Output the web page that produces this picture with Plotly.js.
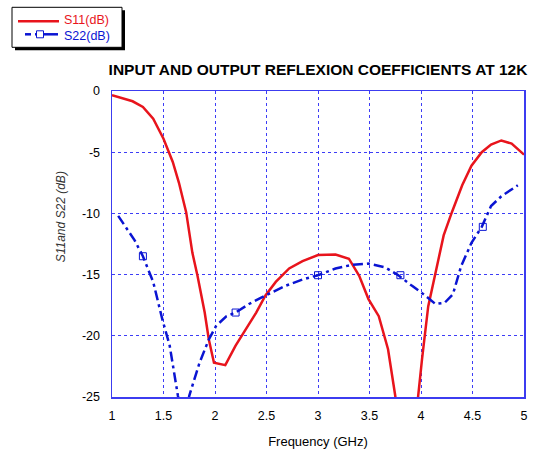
<!DOCTYPE html>
<html>
<head>
<meta charset="utf-8">
<script src="https://cdn.plot.ly/plotly-3.0.1.min.js"></script>
<style>html,body{margin:0;padding:0;background:#fff;}#chart{width:535px;height:449px;}</style>
</head>
<body>
<div id="chart"></div>
<script>
// S11 (dB) versus frequency (GHz)
var s11Freq = [1.00, 1.20, 1.30, 1.40, 1.50, 1.59, 1.65, 1.72, 1.78, 1.83, 1.90, 1.94, 1.99, 2.10, 2.20, 2.30, 2.40, 2.49, 2.59, 2.72, 2.85, 3.00, 3.17, 3.30, 3.40, 3.49, 3.59, 3.68, 3.75, 3.86, 3.97, 4.01, 4.07, 4.14, 4.22, 4.30, 4.40, 4.49, 4.59, 4.68, 4.78, 4.88, 5.00];
var s11dB   = [-0.35, -0.84, -1.3, -2.27, -3.9, -5.8, -7.5, -9.9, -13.2, -15.1, -18.1, -20.3, -22.2, -22.4, -20.8, -19.5, -18.1, -16.7, -15.6, -14.5, -13.9, -13.4, -13.36, -13.7, -15.1, -17.0, -18.4, -21.1, -24.9, -34, -24.9, -21.9, -17.6, -14.8, -11.8, -9.9, -7.7, -6.1, -5.0, -4.37, -4.04, -4.3, -5.2];

// S22 (dB) versus frequency (GHz)
var s22Freq = [1.06, 1.22, 1.30, 1.40, 1.49, 1.56, 1.64, 1.70, 1.75, 1.85, 1.94, 2.01, 2.11, 2.20, 2.33, 2.49, 2.69, 2.85, 3.00, 3.17, 3.33, 3.49, 3.65, 3.78, 3.91, 4.04, 4.14, 4.23, 4.31, 4.39, 4.49, 4.59, 4.68, 4.78, 4.94];
var s22dB   = [-10.2, -12.2, -13.5, -15.6, -18.7, -20.8, -24.9, -27.5, -24.9, -22.2, -20.3, -19.2, -18.4, -18.1, -17.4, -16.7, -15.9, -15.4, -15.05, -14.5, -14.2, -14.1, -14.4, -15.05, -15.9, -16.7, -17.4, -17.3, -16.6, -14.3, -12.4, -11.1, -9.4, -8.6, -7.7];

// S22 marker positions
var s22MarkFreq = [1.30, 2.20, 3.00, 3.80, 4.60];
var s22MarkdB   = [-13.5, -18.1, -15.05, -15.05, -11.1];

var xTicks = [1, 1.5, 2, 2.5, 3, 3.5, 4, 4.5, 5];
var yTicks = [0, -5, -10, -15, -20, -25];
var seriesNames = ['S11(dB)', 'S22(dB)'];

var RED = '#e8141c';
var BLUE = '#0a14d2';
var DASH = '10px,4px,3px,4px';

var traces = [
  {x: s11Freq, y: s11dB, mode: 'lines', name: seriesNames[0], showlegend: false,
   line: {color: RED, width: 2.5}},
  {x: s22Freq, y: s22dB, mode: 'lines', name: seriesNames[1], showlegend: false,
   line: {color: BLUE, width: 2.5, dash: DASH}},
  {x: s22MarkFreq, y: s22MarkdB, mode: 'markers', name: seriesNames[1], showlegend: false,
   marker: {symbol: 'square-open', size: 7, color: BLUE, line: {width: 1, color: BLUE}}}
];

var L = 112, R = 524, T = 90.7, B = 396.7;
var W = R - L, H = B - T;
function px(x) { return (x - L) / W; }
function py(y) { return (B - y) / H; }

var FONT = 'Liberation Sans, Arial, sans-serif';
var gridCol = 'rgba(40,40,245,0.9)';

// hand-drawn legend box (paper coordinates from pixel positions)
var shapes = [
  {type: 'rect', xref: 'paper', yref: 'paper', x0: px(15), x1: px(125), y0: py(50), y1: py(10),
   fillcolor: '#000', line: {width: 0}, layer: 'above'},
  {type: 'rect', xref: 'paper', yref: 'paper', x0: px(12), x1: px(122), y0: py(47), y1: py(7),
   fillcolor: '#fff', line: {width: 1, color: '#000'}, layer: 'above'},
  {type: 'line', xref: 'paper', yref: 'paper', x0: px(18), x1: px(59), y0: py(21), y1: py(21),
   line: {width: 2.5, color: RED}, layer: 'above'},
  {type: 'line', xref: 'paper', yref: 'paper', x0: px(25), x1: px(31), y0: py(34), y1: py(34),
   line: {width: 2.5, color: BLUE}, layer: 'above'},
  {type: 'line', xref: 'paper', yref: 'paper', x0: px(35), x1: px(58), y0: py(34), y1: py(34),
   line: {width: 2.5, color: BLUE}, layer: 'above'},
  {type: 'rect', xref: 'paper', yref: 'paper', x0: px(36.5), x1: px(43.5), y0: py(37.5), y1: py(30.5),
   fillcolor: '#fff', line: {width: 1, color: BLUE}, layer: 'above'}
];

var annotations = [
  {xref: 'paper', yref: 'paper', x: px(63), y: py(27.5), xanchor: 'left', yanchor: 'bottom',
   text: seriesNames[0], showarrow: false, borderpad: 0, font: {family: FONT, size: 12.5, color: RED}},
  {xref: 'paper', yref: 'paper', x: px(63), y: py(28), xanchor: 'left', yanchor: 'top',
   text: seriesNames[1], showarrow: false, borderpad: 0, font: {family: FONT, size: 12.5, color: BLUE}},
  {xref: 'paper', yref: 'paper', x: px(61), y: py(217), xanchor: 'center', yanchor: 'middle',
   textangle: -90, text: '<i>S11and S22 (dB)</i>', showarrow: false,
   font: {family: 'Liberation Sans Narrow, Arial Narrow, Liberation Sans, sans-serif', size: 12, color: '#333'}}
];

var layout = {
  width: 535, height: 449,
  margin: {l: L, r: 535 - R, t: T, b: 449 - B, pad: 0},
  paper_bgcolor: '#fff', plot_bgcolor: '#fff',
  font: {family: FONT, size: 12.5, color: '#000'},
  title: {text: '<b>INPUT AND OUTPUT REFLEXION COEFFICIENTS AT 12K</b>',
    font: {size: 15.5, color: '#000', family: FONT},
    x: 0.5, xref: 'paper', xanchor: 'center', y: 1 - 70 / 449, yanchor: 'middle'},
  xaxis: {range: [1, 5], tickvals: xTicks, ticktext: xTicks.map(String),
    showgrid: true, gridcolor: gridCol, griddash: 'dot', gridwidth: 1,
    showline: true, linecolor: '#3c3cf0', linewidth: 1.5, mirror: true, zeroline: false,
    ticks: 'outside', ticklen: 6, tickcolor: 'rgba(0,0,0,0)',
    tickfont: {size: 12.5, color: '#000'},
    title: {text: 'Frequency (GHz)', font: {size: 13, color: '#000'}, standoff: 16}},
  yaxis: {range: [-25, 0], tickvals: yTicks, ticktext: yTicks.map(String),
    showgrid: true, gridcolor: gridCol, griddash: 'dot', gridwidth: 1,
    showline: true, linecolor: '#3c3cf0', linewidth: 1.5, mirror: true, zeroline: false,
    ticks: 'outside', ticklen: 8, tickcolor: 'rgba(0,0,0,0)',
    tickfont: {size: 12.5, color: '#000'}},
  shapes: shapes,
  annotations: annotations,
  showlegend: false
};

Plotly.newPlot('chart', traces, layout, {staticPlot: true, displayModeBar: false});
</script>
</body>
</html>
